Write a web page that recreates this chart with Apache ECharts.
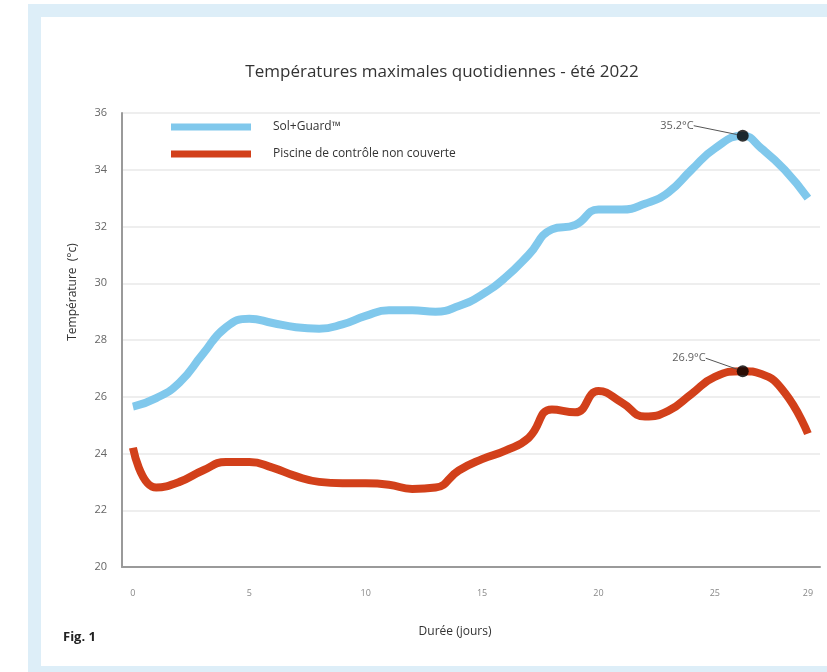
<!DOCTYPE html>
<html>
<head>
<meta charset="utf-8">
<script src="https://cdn.jsdelivr.net/npm/echarts@6/dist/echarts.min.js"></script>
<style>
  html, body { margin: 0; padding: 0; background: #ffffff; }
  #chart { width: 827px; height: 672px; }
</style>
</head>
<body>
<div id="chart"></div>
<script>
// ---- data ----
const days = [0, 1, 2, 3, 4, 5, 6, 7, 8, 9, 10, 11, 12, 13, 14, 15, 16, 17, 18, 19, 20, 21, 22, 23, 24, 25, 26.2, 27, 28, 29];
const solGuard = [25.65, 25.95, 26.5, 27.5, 28.45, 28.75, 28.6, 28.45, 28.4, 28.55, 28.85, 29.05, 29.05, 29.0, 29.2, 29.6, 30.2, 31.0, 31.9, 32.05, 32.6, 32.6, 32.8, 33.2, 34.0, 34.75, 35.2, 34.75, 34.0, 33.0];
const controlPool = [24.2, 22.8, 23.0, 23.4, 23.7, 23.7, 23.5, 23.2, 23.0, 22.95, 22.95, 22.9, 22.75, 22.8, 23.4, 23.8, 24.1, 24.55, 25.55, 25.45, 26.2, 25.8, 25.3, 25.5, 26.1, 26.7, 26.9, 26.8, 26.15, 24.7];
const peakDay = 26.2;
const peakSol = 35.2;
const peakPool = 26.9;
const xTickLabels = [0, 5, 10, 15, 20, 25, 29];
const seriesNames = ['Sol+Guard™', 'Piscine de contrôle non couverte'];
const titleText = 'Températures maximales quotidiennes - été 2022';
const xName = 'Durée (jours)';
const yName = 'Température  (°c)';
const figText = 'Fig. 1';

const FONT = '"Open Sans", "Noto Sans", sans-serif';
const pair = (xs, ys) => xs.map((x, i) => [x, ys[i]]);

const chart = echarts.init(document.getElementById('chart'), null, { renderer: 'canvas' });
chart.setOption({
  animation: false,
  backgroundColor: 'transparent',
  textStyle: { fontFamily: FONT },
  graphic: [
    { type: 'rect', z: -100, shape: { x: 28, y: 4, width: 799, height: 668 }, style: { fill: '#ddeef8' }, silent: true },
    { type: 'rect', z: -99, shape: { x: 41, y: 17, width: 786, height: 649 }, style: { fill: '#ffffff' }, silent: true },
    { type: 'text', x: 73, y: 292, rotation: Math.PI / 2, style: { text: yName, fill: '#333', font: '12px ' + FONT, align: 'center', verticalAlign: 'middle' } },
    { type: 'text', x: 455, y: 632, style: { text: xName, fill: '#333', font: '12px ' + FONT, align: 'center', verticalAlign: 'middle' } },
    { type: 'text', x: 63, y: 637, style: { text: figText, fill: '#222', font: 'bold 13px ' + FONT, align: 'left', verticalAlign: 'middle' } }
  ],
  title: {
    text: titleText,
    left: 437, top: 59, textAlign: 'center',
    textStyle: { fontFamily: FONT, fontSize: 17, fontWeight: 'normal', color: '#333' }
  },
  legend: {
    data: seriesNames,
    orient: 'vertical',
    left: 166, top: 116,
    icon: 'rect',
    itemWidth: 80, itemHeight: 7,
    itemGap: 15,
    textStyle: { fontFamily: FONT, fontSize: 12, color: '#333', padding: [0, 0, 0, 17] }
  },
  grid: { left: 122, top: 113, width: 698, height: 454, containLabel: false },
  xAxis: {
    type: 'value',
    min: -0.47, max: 29.52,
    axisLine: { show: true, onZero: false, lineStyle: { color: '#9a9a9a', width: 2 } },
    axisTick: { show: false },
    splitLine: { show: false },
    axisLabel: { customValues: xTickLabels, color: '#888', fontSize: 9, margin: 22 }
  },
  yAxis: {
    type: 'value',
    min: 20, max: 36, interval: 2,
    axisLine: { show: true, onZero: false, lineStyle: { color: '#9a9a9a', width: 2 } },
    axisTick: { show: false },
    splitLine: { show: true, lineStyle: { color: '#e8e8e8', width: 1.5 } },
    axisLabel: { color: '#666', fontSize: 11, margin: 15, padding: [8, 0, 0, 0] }
  },
  series: [
    {
      name: seriesNames[0], type: 'line', data: pair(days, solGuard),
      smooth: 0.5, showSymbol: false, symbol: 'none',
      lineStyle: { color: '#80c8ec', width: 8 }, itemStyle: { color: '#80c8ec' }, z: 2
    },
    {
      name: seriesNames[1], type: 'line', data: pair(days, controlPool),
      smooth: 0.5, showSymbol: false, symbol: 'none',
      lineStyle: { color: '#d2401a', width: 8 }, itemStyle: { color: '#d2401a' }, z: 2
    },
    {
      name: 'peaks', type: 'scatter', z: 5,
      data: [[peakDay, peakSol], [peakDay, peakPool]],
      symbolSize: 12, itemStyle: { color: '#000' },
      label: {
        show: true, position: 'left', distance: 5,
        formatter: p => p.value[1].toFixed(1) + '°C',
        color: '#333', fontSize: 11, fontFamily: FONT
      },
      labelLayout: p => (p.dataIndex === 0 ? { dx: -38, dy: -10 } : { dx: -26, dy: -13 }),
      labelLine: { show: true, lineStyle: { color: '#555', width: 1 } }
    }
  ]
});
</script>
</body>
</html>
